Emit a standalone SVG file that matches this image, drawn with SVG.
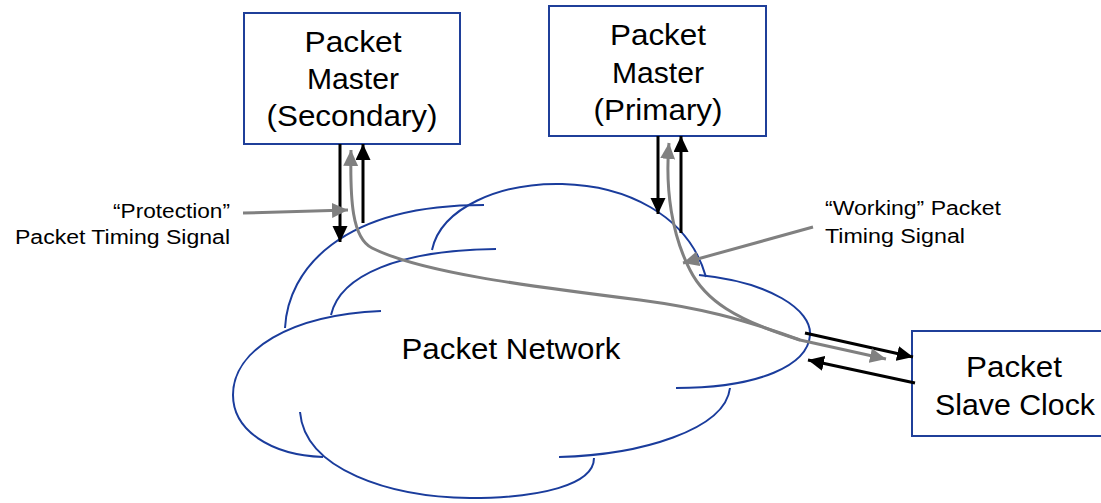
<svg xmlns="http://www.w3.org/2000/svg" width="1101" height="503" viewBox="0 0 1101 503">
<style>
.box{fill:#fff;stroke:#1f3f99;stroke-width:2}
.cloud{fill:none;stroke:#1a3c9c;stroke-width:2}
.t{font-family:"Liberation Sans",Arial,sans-serif;font-size:29px;fill:#000;text-anchor:middle}
.lbl{font-family:"Liberation Sans",Arial,sans-serif;font-size:20px;fill:#000}
.blk{stroke:#000;stroke-width:3;fill:none}
.gry{stroke:#808080;stroke-width:3;fill:none}
</style>
<defs>
<marker id="ab" markerUnits="userSpaceOnUse" markerWidth="17" markerHeight="16" refX="16" refY="7.5" orient="auto-start-reverse"><path d="M0,0 L16,7.5 L0,15 z" fill="#000"/></marker>
<marker id="ag" markerUnits="userSpaceOnUse" markerWidth="17" markerHeight="16" refX="16" refY="7.5" orient="auto-start-reverse"><path d="M0,0 L16,7.5 L0,15 z" fill="#808080"/></marker>
</defs>
<g id="cloud">
<path class="cloud" d="M285,328 C288,270 340,205 484,205"/>
<path class="cloud" d="M432,250 C450,165 670,150 706,277"/>
<path class="cloud" d="M331,315 C340,275 400,250 496,249"/>
<path class="cloud" d="M381,311 C290,315 233,350 233,395 C233,430 270,455 323,457"/>
<path class="cloud" d="M300,412 C305,470 390,497 470,498 C540,498 594,485 594,458"/>
<path class="cloud" d="M559,457 C640,455 725,430 730,388"/>
<path class="cloud" d="M699,275 C770,282 812,310 810,335 C808,365 760,388 676,388"/>
<text class="t" x="511" y="359" textLength="219" lengthAdjust="spacingAndGlyphs">Packet Network</text>
</g>
<g id="secondary">
<rect class="box" x="244" y="13" width="216" height="131"/>
<text class="t" x="353" y="52" textLength="97" lengthAdjust="spacingAndGlyphs">Packet</text>
<text class="t" x="353" y="89" textLength="92" lengthAdjust="spacingAndGlyphs">Master</text>
<text class="t" x="352" y="126" textLength="171" lengthAdjust="spacingAndGlyphs">(Secondary)</text>
</g>
<g id="primary">
<rect class="box" x="549" y="6" width="217" height="130"/>
<text class="t" x="658" y="45" textLength="96" lengthAdjust="spacingAndGlyphs">Packet</text>
<text class="t" x="658" y="83" textLength="92" lengthAdjust="spacingAndGlyphs">Master</text>
<text class="t" x="658" y="120" textLength="129" lengthAdjust="spacingAndGlyphs">(Primary)</text>
</g>
<g id="slave">
<rect class="box" x="912" y="331" width="200" height="105"/>
<text class="t" x="1014" y="377" textLength="96" lengthAdjust="spacingAndGlyphs">Packet</text>
<text class="t" x="1015" y="415" textLength="160" lengthAdjust="spacingAndGlyphs">Slave Clock</text>
</g>
<g id="labels">
<text class="lbl" text-anchor="end" x="230" y="218" textLength="117" lengthAdjust="spacingAndGlyphs">“Protection”</text>
<text class="lbl" text-anchor="end" x="230" y="244" textLength="215" lengthAdjust="spacingAndGlyphs">Packet Timing Signal</text>
<text class="lbl" x="825" y="215" textLength="176" lengthAdjust="spacingAndGlyphs">“Working” Packet</text>
<text class="lbl" x="825" y="243" textLength="140" lengthAdjust="spacingAndGlyphs">Timing Signal</text>
</g>
<g id="connectors">
<line class="blk" x1="340" y1="144" x2="340" y2="242" marker-end="url(#ab)"/>
<line class="blk" x1="363" y1="223" x2="363" y2="144" marker-end="url(#ab)"/>
<line class="blk" x1="658" y1="136" x2="658" y2="214" marker-end="url(#ab)"/>
<line class="blk" x1="681" y1="233" x2="681" y2="136" marker-end="url(#ab)"/>
<line class="blk" x1="805" y1="333" x2="913" y2="357" marker-end="url(#ab)"/>
<line class="blk" x1="915" y1="383" x2="808" y2="360" marker-end="url(#ab)"/>
<path class="gry" d="M351,150 C350,200 352,238 372,248 C420,272 520,285 640,300 C700,308 740,318 800,340 L886,359" marker-start="url(#ag)" marker-end="url(#ag)"/>
<path class="gry" d="M669,143 C665,190 672,235 690,270 C705,300 735,320 800,340" marker-start="url(#ag)"/>
<line class="gry" x1="243" y1="213" x2="348" y2="210" marker-end="url(#ag)"/>
<line class="gry" x1="813" y1="227" x2="683" y2="263" marker-end="url(#ag)"/>
</g>
</svg>
